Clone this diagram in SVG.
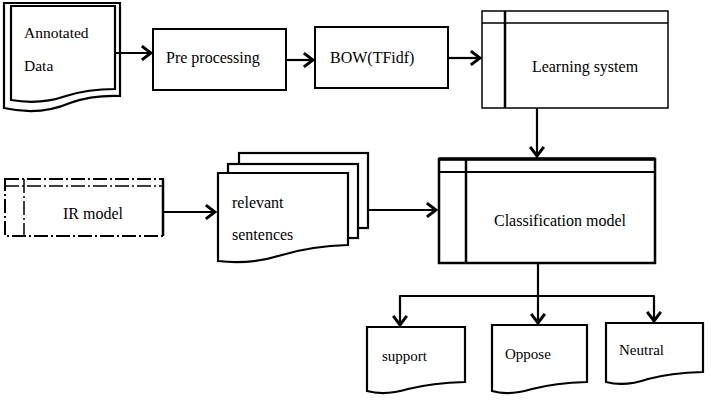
<svg xmlns="http://www.w3.org/2000/svg" width="711" height="416" viewBox="0 0 711 416">
<defs>
<marker id="ah" markerUnits="userSpaceOnUse" markerWidth="14" markerHeight="16" viewBox="-10 -7 12 14" refX="0" refY="0" orient="auto">
<polyline points="-8,-6 0,0 -8,6" fill="none" stroke="#000" stroke-width="2.6" stroke-linejoin="miter"/>
</marker>
</defs>
<style>
text{font-family:'Liberation Serif','Times New Roman',serif;font-size:16px;fill:#000}
.sm{font-size:15px}
.doc{fill:#fff;stroke:#000;stroke-width:2.2}
.box{fill:#fff;stroke:#000}
.c{fill:none;stroke:#000;stroke-width:2.2}
</style>
<rect width="711" height="416" fill="#fff"/>
<g id="annotated-data">
<path class="doc" d="M4,3 H120 V96 Q92,95 70,103 Q40,116 4,108 Z"/>
<path class="doc" d="M11,6 H115 V89 Q88,89 66,96 Q40,105 11,100 Z"/>
<text x="24" y="38" style="font-size:15.5px">Annotated</text>
<text x="24" y="71" style="font-size:15.5px">Data</text>
</g>
<g id="pre-processing">
<rect class="box" x="153" y="29" width="133" height="61" stroke-width="2"/>
<text x="166" y="63">Pre processing</text>
</g>
<g id="bow">
<rect class="box" x="315" y="27" width="133" height="61" stroke-width="2"/>
<text x="330" y="63">BOW(TFidf)</text>
</g>
<g id="learning-system">
<rect class="box" x="482" y="11" width="186" height="97" stroke-width="1.5"/>
<line x1="482" y1="23" x2="668" y2="23" stroke="#000" stroke-width="1.5"/>
<line x1="505" y1="11" x2="505" y2="108" stroke="#000" stroke-width="2.5"/>
<text x="585" y="72" text-anchor="middle">Learning system</text>
</g>
<g id="ir-model">
<rect x="5" y="179" width="158" height="57" fill="#fff" stroke="#000" stroke-width="2" stroke-dasharray="14,3,2,3"/>
<line x1="163" y1="179" x2="163" y2="236" stroke="#000" stroke-width="2.5"/>
<line x1="5" y1="186" x2="163" y2="186" stroke="#000" stroke-width="1.5" stroke-dasharray="14,3,2,3"/>
<line x1="24" y1="179" x2="24" y2="236" stroke="#000" stroke-width="1.5" stroke-dasharray="14,3,2,3"/>
<text x="93" y="219" text-anchor="middle">IR model</text>
</g>
<g id="relevant-sentences">
<rect class="doc" x="239" y="153" width="129" height="75" stroke-width="2.6"/>
<rect class="doc" x="228" y="164" width="130" height="74" stroke-width="2.6"/>
<path class="doc" stroke-width="2.6" d="M218,173 H348 V245 Q312,246 282,255 Q250,265 218,261 Z"/>
<text x="232" y="208">relevant</text>
<text x="232" y="240">sentences</text>
</g>
<g id="classification-model">
<rect class="box" x="439" y="159" width="216" height="104" stroke-width="2.5"/>
<line x1="439" y1="159" x2="655" y2="159" stroke="#000" stroke-width="3.5"/>
<line x1="439" y1="172" x2="655" y2="172" stroke="#000" stroke-width="2"/>
<line x1="466" y1="159" x2="466" y2="263" stroke="#000" stroke-width="2.5"/>
<text x="560" y="226" text-anchor="middle">Classification model</text>
</g>
<g id="support">
<path class="doc" d="M367,327 H465 V382 Q432,383 408,389 Q385,396 367,391 Z"/>
<text class="sm" x="382" y="361">support</text>
</g>
<g id="oppose">
<path class="doc" d="M492,325 H587 V382 Q555,383 532,389 Q508,396 492,391 Z"/>
<text class="sm" x="505" y="359">Oppose</text>
</g>
<g id="neutral">
<path class="doc" d="M606,323 H703 V372 Q670,373 648,379 Q625,387 606,382 Z"/>
<text class="sm" x="619" y="355">Neutral</text>
</g>
<g id="connectors">
<line class="c" x1="115" y1="53" x2="151" y2="53" marker-end="url(#ah)"/>
<line class="c" x1="286" y1="60" x2="313" y2="60" marker-end="url(#ah)"/>
<line class="c" x1="448" y1="58" x2="480" y2="58" marker-end="url(#ah)"/>
<line class="c" x1="537" y1="108" x2="537" y2="156" marker-end="url(#ah)"/>
<line class="c" x1="163" y1="212" x2="215" y2="212" marker-end="url(#ah)"/>
<line class="c" x1="368" y1="210" x2="436" y2="210" marker-end="url(#ah)"/>
<line class="c" x1="538" y1="263" x2="538" y2="323" stroke-width="3" marker-end="url(#ah)"/>
<line class="c" x1="400" y1="296" x2="654" y2="296" stroke-width="1.6"/>
<line class="c" x1="400" y1="295.2" x2="400" y2="325" stroke-width="1.6" marker-end="url(#ah)"/>
<line class="c" x1="654" y1="295.2" x2="654" y2="321" stroke-width="1.6" marker-end="url(#ah)"/>
</g>
</svg>
